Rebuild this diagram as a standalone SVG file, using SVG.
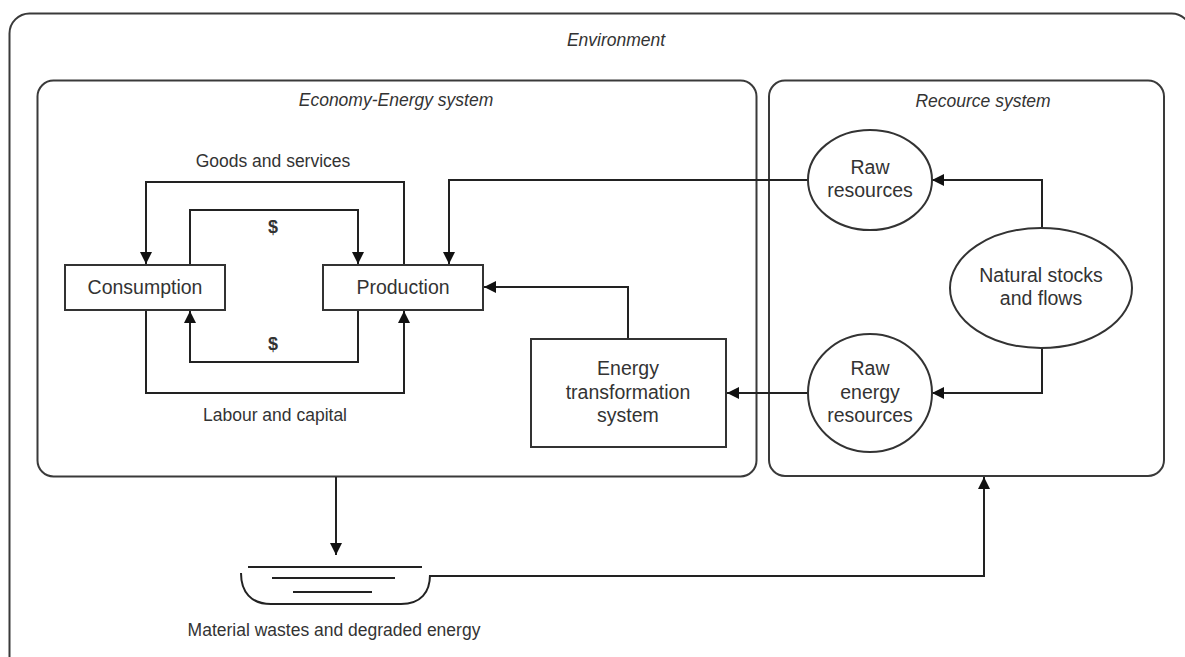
<svg xmlns="http://www.w3.org/2000/svg" width="1185" height="657" viewBox="0 0 1185 657">
  <style>
    .frame { fill: none; stroke: #3a3a3a; stroke-width: 2; }
    .node { fill: #ffffff; stroke: #333333; stroke-width: 2; }
    .wire { fill: none; stroke: #222222; stroke-width: 2; }
    .title { font-family: "Liberation Sans", Arial, sans-serif; font-size: 17.5px; font-style: italic; fill: #333333; text-anchor: middle; }
    .label { font-family: "Liberation Sans", Arial, sans-serif; font-size: 17.5px; fill: #333333; text-anchor: middle; }
    .ntext { font-family: "Liberation Sans", Arial, sans-serif; font-size: 19.5px; fill: #333333; text-anchor: middle; }
    .money { font-family: "Liberation Sans", Arial, sans-serif; font-size: 18px; font-weight: bold; fill: #333333; text-anchor: middle; }
  </style>
  <defs>
    <marker id="arrow" markerUnits="userSpaceOnUse" markerWidth="13" markerHeight="13" refX="12" refY="6" orient="auto">
      <path d="M0,0 L12,6 L0,12 z" fill="#111111"/>
    </marker>
  </defs>

  <rect width="1185" height="657" fill="#ffffff"/>

  <!-- Environment frame -->
  <g id="environment">
    <rect class="frame" x="9.5" y="13.5" width="1182" height="665" rx="20"/>
    <text class="title" x="616" y="46">Environment</text>
  </g>

  <!-- Economy-Energy system frame -->
  <g id="economy-energy">
    <rect class="frame" x="37.5" y="80.5" width="719" height="396" rx="16"/>
    <text class="title" x="396" y="106">Economy-Energy system</text>
  </g>

  <!-- Resource system frame -->
  <g id="resource-system">
    <rect class="frame" x="769" y="80.5" width="395" height="395.5" rx="16"/>
    <text class="title" x="983" y="107">Recource system</text>
  </g>

  <!-- Connectors -->
  <g id="connectors" class="wire">
    <path d="M404,265 V182 H146 V264" marker-end="url(#arrow)"/>
    <path d="M190,265 V210 H358 V264" marker-end="url(#arrow)"/>
    <path d="M358,310 V362 H190 V311" marker-end="url(#arrow)"/>
    <path d="M146,310 V393 H404 V311" marker-end="url(#arrow)"/>
    <path d="M808,180 H449 V264" marker-end="url(#arrow)"/>
    <path d="M628,339 V287 H484" marker-end="url(#arrow)"/>
    <path d="M808,393 H727" marker-end="url(#arrow)"/>
    <path d="M1042,228 V180 H932" marker-end="url(#arrow)"/>
    <path d="M1042,347 V393 H932" marker-end="url(#arrow)"/>
    <path d="M336,477 V555" marker-end="url(#arrow)"/>
    <path d="M430,576 H984 V477" marker-end="url(#arrow)"/>
  </g>

  <!-- Connector labels -->
  <g id="flow-labels">
    <text class="label" x="273" y="167">Goods and services</text>
    <text class="money" x="273" y="233">$</text>
    <text class="money" x="273" y="350">$</text>
    <text class="label" x="275" y="421">Labour and capital</text>
  </g>

  <g id="consumption">
    <rect class="node" x="65" y="265" width="160" height="45"/>
    <text class="ntext" x="145" y="294">Consumption</text>
  </g>

  <g id="production">
    <rect class="node" x="323" y="265" width="160" height="45"/>
    <text class="ntext" x="403" y="294">Production</text>
  </g>

  <g id="energy-transformation">
    <rect class="node" x="531" y="339" width="195" height="108"/>
    <text class="ntext" x="628" y="375">Energy</text>
    <text class="ntext" x="628" y="399">transformation</text>
    <text class="ntext" x="628" y="422">system</text>
  </g>

  <g id="raw-resources">
    <ellipse class="node" cx="870" cy="180" rx="62" ry="50"/>
    <text class="ntext" x="870" y="174">Raw</text>
    <text class="ntext" x="870" y="197">resources</text>
  </g>

  <g id="natural-stocks">
    <ellipse class="node" cx="1041" cy="288" rx="91" ry="60"/>
    <text class="ntext" x="1041" y="282">Natural stocks</text>
    <text class="ntext" x="1041" y="305">and flows</text>
  </g>

  <g id="raw-energy">
    <ellipse class="node" cx="870" cy="393" rx="62" ry="59"/>
    <text class="ntext" x="870" y="375">Raw</text>
    <text class="ntext" x="870" y="399">energy</text>
    <text class="ntext" x="870" y="422">resources</text>
  </g>

  <!-- Waste sink -->
  <g id="waste-sink">
    <path class="wire" d="M241,573 C241,592 251,604 271,604 H401 C421,604 430,592 430,575"/>
    <path class="wire" d="M248,567 H422 M272,578 H395 M293,592 H372"/>
    <text class="label" x="334" y="636">Material wastes and degraded energy</text>
  </g>
</svg>
